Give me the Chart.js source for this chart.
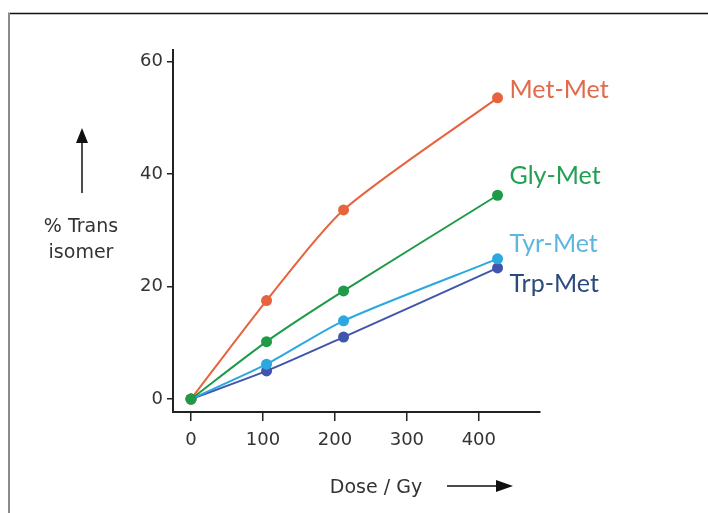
<!DOCTYPE html>
<html>
<head>
<meta charset="utf-8">
<script src="https://cdn.jsdelivr.net/npm/chart.js@4.4.1/dist/chart.umd.min.js"></script>
<style>
  html, body { margin: 0; padding: 0; background: #fff; }
  #wrap { width: 708px; height: 513px; position: relative; }
</style>
</head>
<body>
<div id="wrap"><canvas id="chart"></canvas></div>
<script>
'use strict';

// ---- data ----
const DOSES      = [0, 105, 212, 426];
const MET_MET    = [0, 17.5, 33.6, 53.5];
const GLY_MET    = [0, 10.2, 19.2, 36.2];
const TYR_MET    = [0, 6.2, 13.9, 24.9];
const TRP_MET    = [0, 5.0, 11.0, 23.3];
const SERIES     = ['Met-Met', 'Gly-Met', 'Tyr-Met', 'Trp-Met'];
const X_TICKS    = [0, 100, 200, 300, 400];
const Y_TICKS    = [0, 20, 40, 60];
const Y_TITLE    = ['% Trans', 'isomer'];
const X_TITLE    = 'Dose / Gy';

// ---- styling ----
const LINE_COLORS  = ['#e8623d', '#1e9a48', '#2ba8e0', '#4155ad'];
const LABEL_COLORS = ['#e4694a', '#21a052', '#5db6de', '#2c4b7d'];
const LABEL_DY     = [-8, -19, -15, 16];
const DRAW_ORDER   = [1, 0, 2, 3];
const TICK_FONT    = { family: 'DejaVu Sans', size: 18 };
const AXIS_COLOR   = '#222';

const toPts = ys => DOSES.map((x, i) => ({ x, y: ys[i] }));
const allValues = [MET_MET, GLY_MET, TYR_MET, TRP_MET];

const decorPlugin = {
  id: 'decor',
  afterDraw(chart) {
    const ctx = chart.ctx;
    ctx.save();

    // frame
    ctx.strokeStyle = '#111';
    ctx.lineWidth = 1.5;
    ctx.beginPath(); ctx.moveTo(8, 13.5); ctx.lineTo(708, 13.5); ctx.stroke();
    ctx.strokeStyle = '#8a8a8a';
    ctx.lineWidth = 2;
    ctx.beginPath(); ctx.moveTo(9, 13); ctx.lineTo(9, 513); ctx.stroke();

    // y title + arrow
    ctx.fillStyle = '#333';
    ctx.font = '19px "DejaVu Sans"';
    ctx.textAlign = 'center';
    ctx.textBaseline = 'middle';
    ctx.fillText(Y_TITLE[0], 81, 227);
    ctx.fillText(Y_TITLE[1], 81, 253);

    ctx.strokeStyle = '#111';
    ctx.fillStyle = '#111';
    ctx.lineWidth = 1.5;
    ctx.beginPath(); ctx.moveTo(82, 193); ctx.lineTo(82, 140); ctx.stroke();
    ctx.beginPath(); ctx.moveTo(82, 128); ctx.lineTo(76, 143); ctx.lineTo(88, 143); ctx.closePath(); ctx.fill();

    // x title + arrow
    ctx.fillStyle = '#333';
    ctx.fillText(X_TITLE, 376, 488);
    ctx.beginPath(); ctx.moveTo(447, 486); ctx.lineTo(500, 486); ctx.stroke();
    ctx.fillStyle = '#111';
    ctx.beginPath(); ctx.moveTo(513, 486); ctx.lineTo(496, 480); ctx.lineTo(496, 492); ctx.closePath(); ctx.fill();

    // series labels beside the last points
    const xs = chart.scales.x, ys = chart.scales.y;
    ctx.font = '25px Lato';
    ctx.textAlign = 'left';
    SERIES.forEach((name, i) => {
      const vals = allValues[i];
      const px = xs.getPixelForValue(DOSES[DOSES.length - 1]);
      const py = ys.getPixelForValue(vals[vals.length - 1]);
      ctx.fillStyle = LABEL_COLORS[i];
      ctx.fillText(name, px + 12, py + LABEL_DY[i]);
    });

    ctx.restore();
  }
};

new Chart(document.getElementById('chart'), {
  type: 'line',
  data: {
    datasets: SERIES.map((name, i) => ({
      label: name,
      data: toPts(allValues[i]),
      borderColor: LINE_COLORS[i],
      backgroundColor: LINE_COLORS[i],
      pointBackgroundColor: LINE_COLORS[i],
      pointBorderWidth: 0,
      pointRadius: 5.5,
      borderWidth: 2,
      tension: 0.25,
      order: DRAW_ORDER[i],
      clip: false
    }))
  },
  options: {
    responsive: true,
    maintainAspectRatio: false,
    animation: false,
    layout: { padding: { left: 0, top: 50, right: 168, bottom: 0 } },
    plugins: { legend: { display: false }, tooltip: { enabled: false } },
    scales: {
      x: {
        type: 'linear',
        min: -25, max: 485,
        afterBuildTicks: s => { s.ticks = X_TICKS.map(v => ({ value: v })); },
        afterFit: s => { s.height = 101; },
        grid: { drawOnChartArea: false, drawTicks: true, tickLength: 9, tickColor: AXIS_COLOR, lineWidth: 1.5 },
        border: { display: true, color: AXIS_COLOR, width: 2 },
        ticks: { font: TICK_FONT, color: '#333', padding: 9, maxRotation: 0 }
      },
      y: {
        min: -2.3, max: 62,
        afterBuildTicks: s => { s.ticks = Y_TICKS.map(v => ({ value: v })); },
        afterFit: s => { s.width = 173; },
        grid: { drawOnChartArea: false, drawTicks: true, tickLength: 6, tickColor: AXIS_COLOR, lineWidth: 1.5 },
        border: { display: true, color: AXIS_COLOR, width: 2 },
        ticks: { font: TICK_FONT, color: '#333', padding: 4 }
      }
    }
  },
  plugins: [decorPlugin]
});
</script>
</body>
</html>
